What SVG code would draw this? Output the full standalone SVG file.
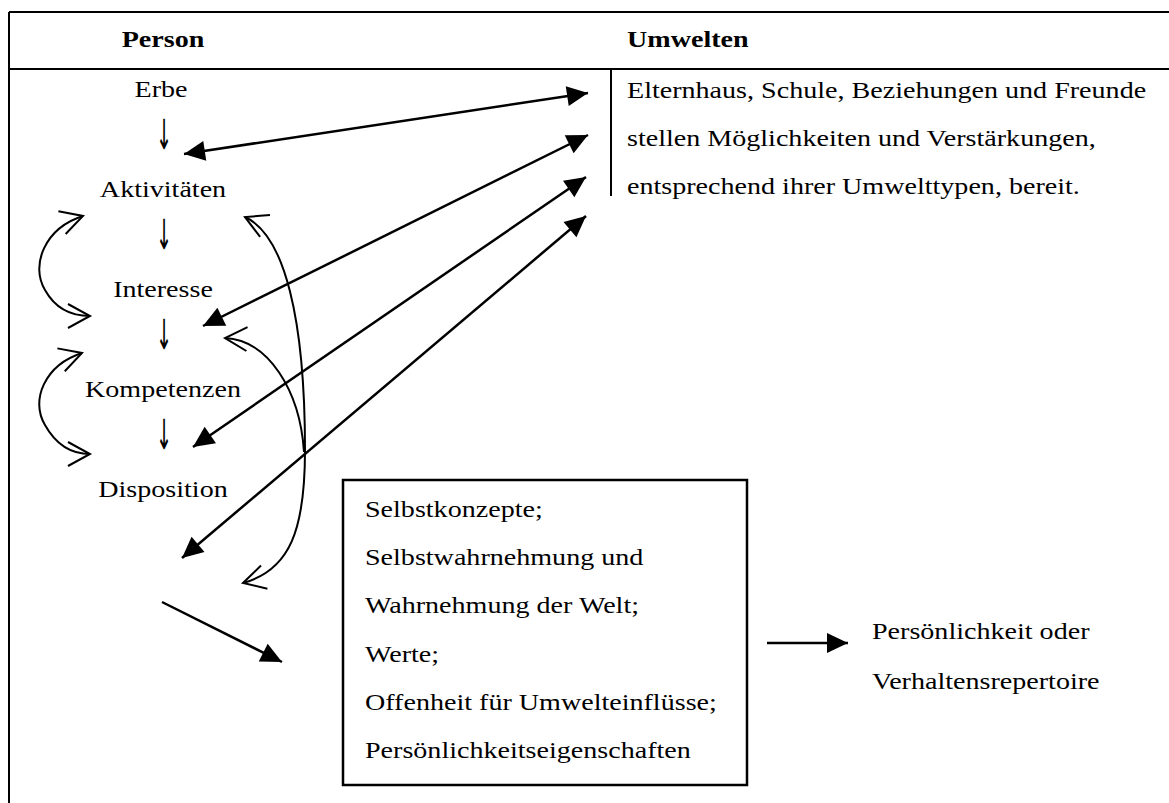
<svg xmlns="http://www.w3.org/2000/svg" width="1169" height="803" viewBox="0 0 1169 803">
<style>
.t{font-family:"Liberation Serif","Times New Roman",serif;font-size:24px;fill:#000}
.b{font-weight:bold}
.m{text-anchor:middle}
.ar{font-family:"DejaVu Sans",sans-serif;font-size:32px;fill:#000;text-anchor:middle}
.frame{stroke:#000;stroke-width:2;fill:none}
.ln{stroke:#000;stroke-width:2.5;fill:none}
.cv{stroke:#000;stroke-width:2;fill:none}
</style>
<defs>
<marker id="fh" viewBox="-23 -12 25 24" refX="0" refY="0" markerWidth="25" markerHeight="24" markerUnits="userSpaceOnUse" orient="auto-start-reverse">
<path d="M-21,-10 L0,0 L-21,10 Z" fill="#000"/>
</marker>
<marker id="oh" viewBox="-26 -16 30 32" refX="0" refY="0" markerWidth="30" markerHeight="32" markerUnits="userSpaceOnUse" orient="auto-start-reverse">
<path d="M-22,-12 L0,0 L-22,12" fill="none" stroke="#000" stroke-width="2"/>
</marker>
</defs>
<rect width="1169" height="803" fill="#fff"/>
<g id="frame">
<line class="frame" x1="9" y1="12" x2="1169" y2="12"/>
<line class="frame" x1="9" y1="69" x2="1169" y2="69"/>
<line class="frame" x1="9" y1="12" x2="9" y2="803"/>
<line class="frame" x1="611" y1="70" x2="611" y2="196"/>
</g>
<g id="header">
<text class="t b m" transform="translate(163 47) scale(1.17 1)">Person</text>
<text class="t b" transform="translate(627 47) scale(1.17 1)">Umwelten</text>
</g>
<g id="person">
<text class="t m" transform="translate(161 97) scale(1.17 1)">Erbe</text>
<text class="ar" transform="translate(164 149) scale(0.6 1.3)">↓</text>
<text class="t m" transform="translate(163 197) scale(1.17 1)">Aktivitäten</text>
<text class="ar" transform="translate(164 249) scale(0.6 1.3)">↓</text>
<text class="t m" transform="translate(163 297) scale(1.17 1)">Interesse</text>
<text class="ar" transform="translate(164 349) scale(0.6 1.3)">↓</text>
<text class="t m" transform="translate(163 397) scale(1.17 1)">Kompetenzen</text>
<text class="ar" transform="translate(164 449) scale(0.6 1.3)">↓</text>
<text class="t m" transform="translate(163 497) scale(1.17 1)">Disposition</text>
</g>
<g id="umwelten">
<text class="t" transform="translate(627 98) scale(1.17 1)">Elternhaus, Schule, Beziehungen und Freunde</text>
<text class="t" transform="translate(627 146) scale(1.17 1)">stellen Möglichkeiten und Verstärkungen,</text>
<text class="t" transform="translate(627 194) scale(1.17 1)">entsprechend ihrer Umwelttypen, bereit.</text>
</g>
<g id="selbst">
<rect x="343" y="480" width="404" height="305" fill="none" stroke="#000" stroke-width="2.5"/>
<text class="t" transform="translate(365 517) scale(1.17 1)">Selbstkonzepte;</text>
<text class="t" transform="translate(365 565) scale(1.17 1)">Selbstwahrnehmung und</text>
<text class="t" transform="translate(365 613) scale(1.17 1)">Wahrnehmung der Welt;</text>
<text class="t" transform="translate(365 662) scale(1.17 1)">Werte;</text>
<text class="t" transform="translate(365 710) scale(1.17 1)">Offenheit für Umwelteinflüsse;</text>
<text class="t" transform="translate(365 758) scale(1.17 1)">Persönlichkeitseigenschaften</text>
</g>
<g id="ergebnis">
<text class="t" transform="translate(872 639) scale(1.17 1)">Persönlichkeit oder</text>
<text class="t" transform="translate(872 689) scale(1.17 1)">Verhaltensrepertoire</text>
</g>
<g id="connectors">
<line class="ln" x1="184" y1="154" x2="588" y2="93" marker-start="url(#fh)" marker-end="url(#fh)"/>
<line class="ln" x1="203" y1="326" x2="588" y2="135" marker-start="url(#fh)" marker-end="url(#fh)"/>
<line class="ln" x1="193" y1="447" x2="586" y2="177" marker-start="url(#fh)" marker-end="url(#fh)"/>
<line class="ln" x1="182" y1="558" x2="586" y2="216" marker-start="url(#fh)" marker-end="url(#fh)"/>
<line class="ln" x1="162" y1="602" x2="282" y2="662" marker-end="url(#fh)"/>
<line class="ln" x1="767" y1="643" x2="848" y2="643" marker-end="url(#fh)"/>
<path class="cv" d="M83,216 C45,228 30,265 45,290 C55,308 70,316 90,316" marker-start="url(#oh)" marker-end="url(#oh)"/>
<path class="cv" d="M82,353 C45,365 30,400 45,425 C55,443 70,454 90,454" marker-start="url(#oh)" marker-end="url(#oh)"/>
<path class="cv" d="M245,217 C285,235 305,320 305,450 C305,530 290,570 243,583" marker-start="url(#oh)" marker-end="url(#oh)"/>
<path class="cv" d="M225,338 C268,340 300,390 304,452" marker-start="url(#oh)"/>
</g>
</svg>
